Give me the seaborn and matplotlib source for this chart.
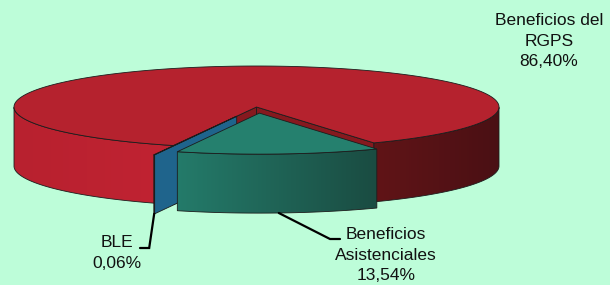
import numpy as np
import matplotlib
matplotlib.use('Agg')
import matplotlib.pyplot as plt
from matplotlib.patches import Polygon
from matplotlib.colors import to_rgb
import seaborn as sns

# data
labels = ['Beneficios del\nRGPS', 'Beneficios\nAsistenciales', 'BLE']
shares = [86.40, 13.54, 0.06]
pct_text = ['86,40%', '13,54%', '0,06%']
explode = [0.0, 0.15, 0.24]

# styles
top_colors = ['#b5222e', '#25806e', '#1f648c']
wall_colors = ['#86191f', '#1d6a5c', '#1f648c']
side_stops = [
    ([-1.0, -0.4, 0.5, 1.0], ['#b8212f', '#c02332', '#601417', '#4a1014']),
    ([-1.0, -0.34, 0.5, 1.0], ['#247d6b', '#247b6a', '#1a4b41', '#1a4b41']),
    ([-1.0, 1.0], ['#1f648c', '#1f648c']),
]
bg = '#bdfdd9'

CX, CY, A, B, H = 256.5, 107.0, 242.5, 41.0, 59.0
start_angle = 250.0


def pt(t, off, r=1.0, dz=0.0):
    t = np.radians(t)
    return (CX + off[0] + r * A * np.cos(t), CY + off[1] - r * B * np.sin(t) + dz)


def side_colors(i, xs, off):
    stops, cols = side_stops[i]
    c = np.array([to_rgb(k) for k in cols])
    ct = np.clip((xs - CX - off[0]) / A, -1, 1)
    return np.stack([np.interp(ct, stops, c[:, j]) for j in range(3)], axis=-1)


def draw_slice(ax, i, lo, hi, z):
    mid = np.radians((lo + hi) / 2)
    off = (explode[i] * A * np.cos(mid), -explode[i] * B * np.sin(mid))
    edge = dict(edgecolor='#1c1c1c', linewidth=0.6)
    c0 = pt(0, off, r=0)
    # radial walls that face the viewer
    for t, sgn in [(lo, -1), (hi, 1)]:
        r = np.radians(t)
        normal_y = -np.cos(r) if sgn == -1 else np.cos(r)
        if normal_y < 0:
            p1 = pt(t, off)
            poly = [c0, p1, (p1[0], p1[1] + H), (c0[0], c0[1] + H)]
            ax.add_patch(Polygon(poly, closed=True, facecolor=wall_colors[i],
                                 zorder=z, **edge))
    # outer side, front half only
    ts = np.linspace(lo, hi, max(int((hi - lo) * 2), 3))
    vis = np.sin(np.radians(ts)) < 0
    runs, cur = [], []
    for t, v in zip(ts, vis):
        if v:
            cur.append(t)
        elif cur:
            runs.append(cur)
            cur = []
    if cur:
        runs.append(cur)
    for run in runs:
        topa = [pt(t, off) for t in run]
        bota = [pt(t, off, dz=H) for t in run[::-1]]
        poly = np.array(topa + bota)
        x0, x1 = poly[:, 0].min(), poly[:, 0].max()
        y0, y1 = poly[:, 1].min(), poly[:, 1].max()
        xs = np.linspace(x0, x1, 200)
        img = side_colors(i, xs, off)[None, :, :]
        im = ax.imshow(img, extent=(x0, x1, y1, y0), aspect='auto',
                       interpolation='bilinear', zorder=z + 0.1)
        clip = Polygon(poly, closed=True, facecolor='none', **edge)
        clip.set_zorder(z + 0.2)
        ax.add_patch(clip)
        im.set_clip_path(clip)
    # top face
    arc = [pt(t, off) for t in np.linspace(lo, hi, max(int(hi - lo), 3))]
    ax.add_patch(Polygon([c0] + arc, closed=True, facecolor=top_colors[i],
                         zorder=z + 0.3, **edge))
    return off


sns.set_style('white')
plt.rcParams['font.family'] = ['Liberation Sans', 'DejaVu Sans']

fig = plt.figure(figsize=(6.1, 2.85), dpi=100)
fig.patch.set_facecolor(bg)
ax = fig.add_axes([0, 0, 1, 1])
ax.set_facecolor(bg)

total = sum(shares)
spans = []
hi = start_angle
for s in shares:
    lo = hi - 360.0 * s / total
    spans.append((lo, hi))
    hi = lo

# back to front: RGPS, BLE, Asistenciales
offs = {}
for z, i in enumerate([0, 2, 1]):
    lo, hi = spans[i]
    offs[i] = draw_slice(ax, i, lo, hi, 2 + z)

txt = dict(fontsize=12.5, color='#111111', ha='center', va='center',
           linespacing=1.45, zorder=10)
ax.text(549, 41, labels[0] + '\n' + pct_text[0], **txt)
ax.text(386, 255, labels[1] + '\n' + pct_text[1], **txt)
ax.text(117, 253, labels[2] + '\n' + pct_text[2], **txt)

# leader lines
m = (spans[2][0] + spans[2][1]) / 2
p = pt(m, offs[2], dz=H)
ax.plot([p[0], p[0] - 5, 140], [p[1], 248, 248], color='black', lw=1.6,
        solid_joinstyle='miter', zorder=9)
m = (spans[1][0] + spans[1][1]) / 2
p = pt(m, offs[1], dz=H)
ax.plot([p[0], 330, 340], [p[1], 239, 239], color='black', lw=1.6,
        solid_joinstyle='miter', zorder=9)

ax.set_xlim(0, 610)
ax.set_ylim(285, 0)
ax.axis('off')

fig.savefig('out.png', dpi=100, facecolor=bg)
